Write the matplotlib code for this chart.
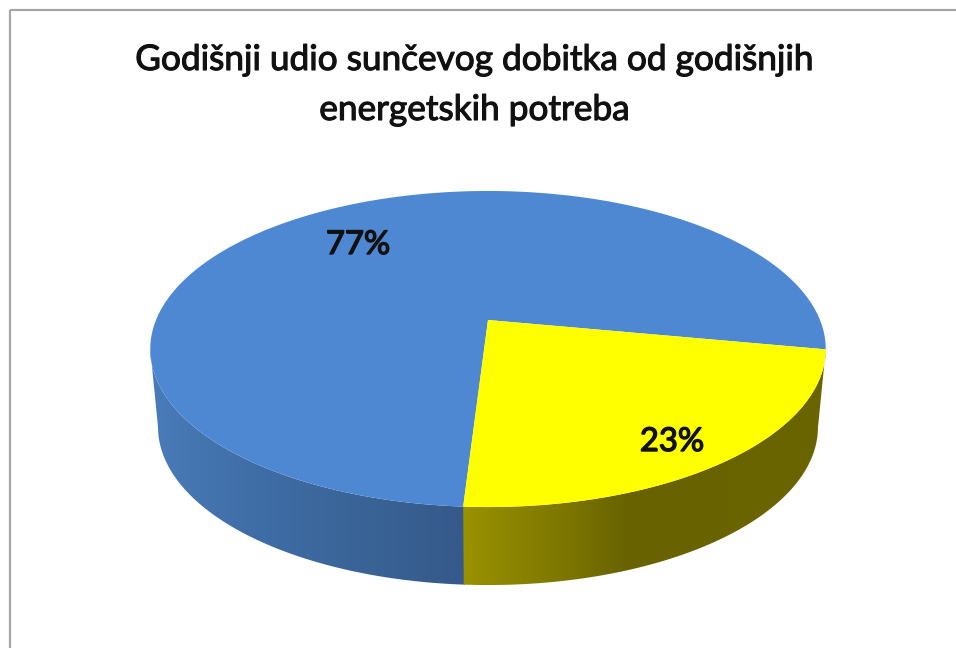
import numpy as np
import matplotlib
matplotlib.use("Agg")
import matplotlib.pyplot as plt
from matplotlib.patches import Polygon
from matplotlib.colors import LinearSegmentedColormap
import matplotlib.patheffects as pe

title_lines = ["Godišnji udio sunčevog dobitka od godišnjih", "energetskih potreba"]
values = [77, 23]
labels = ["77%", "23%"]
top_colors = ["#4f88d2", "#ffff00"]

plt.rcParams["font.family"] = ["Lato", "DejaVu Sans"]

# pie geometry in image pixels, with a bit of perspective (front is nearer)
cx, cy = 488, 320
a, b, k = 332, 152.7, 0.1836
depth = 78
shrink = 0.977  # bottom plane is further away so a little narrower
start = -10.7  # yellow slice starts here and runs clockwise


def top_xy(deg):
    t = np.radians(deg)
    u, v = np.cos(t), np.sin(t)
    w = 1 + k * v
    return cx + a * u / w, cy - b * v / w


def bottom_xy(deg):
    x, y = top_xy(deg)
    return cx + (x - cx) * shrink, y + depth


def wall(ax, d0, d1, cmap, x0, x1):
    d = np.linspace(d0, d1, 200)
    xt, yt = top_xy(d)
    xb, yb = bottom_xy(d)
    pts = np.vstack([np.c_[xt, yt], np.c_[xb, yb][::-1]])
    poly = Polygon(pts, closed=True, fc="none", ec="none")
    ax.add_patch(poly)
    grad = np.linspace(0, 1, 256).reshape(1, -1)
    im = ax.imshow(grad, extent=[x0, x1, 600, 300], cmap=cmap, aspect="auto", zorder=2)
    im.set_clip_path(poly)


fig = plt.figure(figsize=(9.56, 6.48), dpi=100)
ax = fig.add_axes([0, 0, 1, 1])
ax.set_xlim(0, 956)
ax.set_ylim(648, 0)
ax.axis("off")

# chart frame, only left and top show in the crop
ax.plot([10, 10], [648, 10], color="#a6a6a6", lw=1.6, solid_capstyle="butt")
ax.plot([10, 956], [10, 10], color="#a6a6a6", lw=1.6, solid_capstyle="butt")

yellow_deg = values[1] / sum(values) * 360
end = start - yellow_deg
seam = top_xy(end)[0]

blue_wall = LinearSegmentedColormap.from_list("b", ["#4a7cba", "#3f6da6", "#3a6497", "#35598a"])
yellow_wall = LinearSegmentedColormap.from_list(
    "y", [(0, "#9a9200"), (0.3, "#7a7400"), (0.45, "#686300"), (1, "#6a6500")])
wall(ax, 190.6, 360 + end + 0.3, blue_wall, 150, seam + 1)
wall(ax, end, start, yellow_wall, seam, 828)

# top faces
for col, d0, d1 in [(top_colors[0], start, start + values[0] / sum(values) * 360),
                    (top_colors[1], end, start)]:
    d = np.linspace(d0, d1, 300)
    xs, ys = top_xy(d)
    pts = np.vstack([[cx, cy], np.c_[xs, ys]])
    ax.add_patch(Polygon(pts, closed=True, fc=col, ec="none", zorder=3))

ax.text(358, 245, labels[0], fontsize=23.6, ha="center", va="center", color="#111111", zorder=5,
        path_effects=[pe.withStroke(linewidth=1.0, foreground="#111111")])
ax.text(672, 442, labels[1], fontsize=23.6, ha="center", va="center", color="#111111", zorder=5,
        path_effects=[pe.withStroke(linewidth=1.0, foreground="#111111")])

ax.text(475, 60, title_lines[0], fontsize=25.35, ha="center", va="center", color="#111111",
        path_effects=[pe.withStroke(linewidth=0.8, foreground="#111111")])
ax.text(475, 110, title_lines[1], fontsize=25.35, ha="center", va="center", color="#111111",
        path_effects=[pe.withStroke(linewidth=0.8, foreground="#111111")])

fig.savefig("out.png", dpi=100)
